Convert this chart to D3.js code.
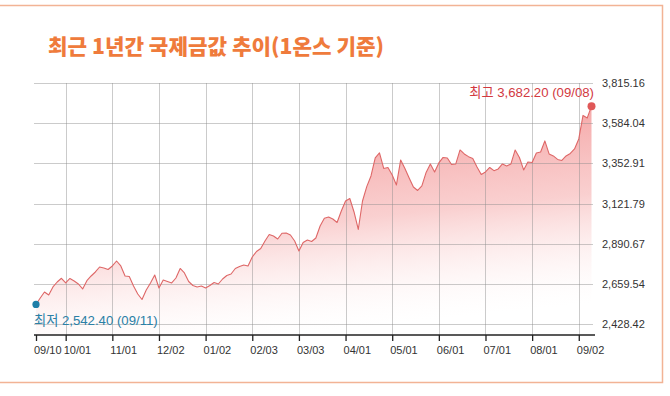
<!DOCTYPE html>
<html><head><meta charset="utf-8">
<script src="https://cdn.jsdelivr.net/npm/d3@7"></script>
<style>html,body{margin:0;padding:0;background:#fff;} svg{display:block}</style>
</head><body><svg id="c" width="670" height="396"></svg>
<script>
const titleText = "최근 1년간 국제금값 추이(1온스 기준)";
const prices = [
2542.4,2579.6,2614.1,2596.9,2642.9,2671.6,2692.9,2665.9,2691.7,2677.4,
2660.1,2631.4,2679.1,2706.1,2729.1,2757.8,2752.1,2743.5,2763.6,2792.3,
2763.6,2706.1,2703.2,2648.6,2602.6,2571.0,2625.6,2665.9,2711.8,2637.1,
2683.1,2674.5,2665.9,2694.6,2749.2,2723.3,2674.5,2651.5,2642.9,2648.6,
2637.1,2651.5,2668.7,2660.1,2688.8,2709.0,2717.6,2749.2,2760.7,2769.3,
2763.6,2815.3,2846.9,2864.2,2907.3,2944.7,2936.0,2918.8,2951.6,2953.3,
2941.8,2907.3,2849.8,2898.7,2913.0,2904.4,2924.5,2993.5,3038.4,3045.3,
3033.8,3013.6,3079.8,3137.2,3151.6,3074.0,2973.4,3137.2,3219.5,3281.0,
3384.5,3413.2,3324.1,3329.8,3286.7,3229.2,3373.0,3324.1,3269.5,3217.7,
3197.6,3223.5,3301.1,3350.0,3304.0,3355.7,3387.3,3384.0,3347.1,3350.0,
3430.4,3407.5,3391.9,3381.6,3332.7,3289.6,3304.0,3329.8,3311.4,3321.2,
3350.0,3338.5,3350.0,3430.4,3387.3,3315.5,3361.5,3358.0,3413.2,3418.9,
3482.2,3407.5,3396.0,3375.8,3370.1,3396.0,3410.3,3436.2,3493.7,3628.8,
3614.4,3682.2];
const tickIndex = [0,7,18,29,40,51,62,73,84,95,106,117,128];
const tickLabels = ["09/10","10/01","11/01","12/02","01/02","02/03","03/03","04/01","05/01","06/01","07/01","08/01","09/02"];
const yTicks = [2428.42,2659.54,2890.67,3121.79,3352.91,3584.04,3815.16];
const lowLabel = "최저 2,542.40 (09/11)";
const highLabel = "최고 3,682.20 (09/08)";

const svg = d3.select("#c");
const W = 670, H = 396;
const plotL = 34, plotR = 593, axisY = 335;
const x = d3.scaleLinear().domain([0, prices.length - 1]).range([36, 591.5]);
const y = d3.scaleLinear().domain([yTicks[0], yTicks[yTicks.length-1]]).range([324.3, 83]);
const base = y.invert(axisY);

// frame
svg.append("path").attr("d", `M0,5.5 H662.5 V382.5 H0`).attr("fill","none")
  .attr("stroke","#f2b395").attr("stroke-width",1.5);

// title
svg.append("text").attr("x",48).attr("y",54).text(titleText)
  .attr("font-family","'Noto Sans CJK KR', sans-serif").attr("font-weight",900)
  .attr("font-size",21).attr("fill","#ef7b3c")
  .attr("textLength",336).attr("lengthAdjust","spacingAndGlyphs");

// gradient
const defs = svg.append("defs");
const gr = defs.append("linearGradient").attr("id","fillg")
  .attr("x1",0.2).attr("y1",0).attr("x2",0.45).attr("y2",1);
gr.append("stop").attr("offset",0).attr("stop-color","#f07d7d").attr("stop-opacity",0.85);
gr.append("stop").attr("offset",0.55).attr("stop-color","#f5a9a9").attr("stop-opacity",0.55);
gr.append("stop").attr("offset",1).attr("stop-color","#ffffff").attr("stop-opacity",0.1);

const area = d3.area().x((d,i)=>x(i)).y0(y(base)).y1(d=>y(d));
svg.append("path").datum(prices).attr("d",area).attr("fill","url(#fillg)");

// grid
const grid = svg.append("g").attr("stroke","rgba(140,140,140,0.45)").attr("stroke-width",1);
grid.selectAll("line.h").data(yTicks).join("line").attr("class","h")
  .attr("x1",plotL).attr("x2",plotR).attr("y1",d=>Math.round(y(d))+0.5).attr("y2",d=>Math.round(y(d))+0.5);
grid.selectAll("line.v").data(tickIndex.slice(1)).join("line").attr("class","v")
  .attr("x1",d=>Math.round(x(d))+0.5).attr("x2",d=>Math.round(x(d))+0.5)
  .attr("y1",y(yTicks[yTicks.length-1])).attr("y2",axisY);

// line
const line = d3.line().x((d,i)=>x(i)).y(d=>y(d));
svg.append("path").datum(prices).attr("d",line).attr("fill","none")
  .attr("stroke","#de6767").attr("stroke-width",1.1).attr("stroke-linejoin","round");

// x axis
const xAxis = d3.axisBottom(x).tickValues(tickIndex).tickFormat((d,i)=>tickLabels[i])
  .tickSizeInner(6).tickSizeOuter(0);
const gx = svg.append("g").attr("transform",`translate(0,${axisY})`).call(xAxis);
gx.select(".domain").remove();
gx.selectAll(".tick line").attr("stroke","#222").attr("stroke-width",1.3);
gx.selectAll(".tick text").attr("font-family","'Liberation Sans', Arial, sans-serif")
  .attr("font-size",11).attr("fill","#333").attr("text-anchor","start").attr("x",-2.5).attr("y",11);
svg.append("line").attr("x1",plotL).attr("x2",595).attr("y1",axisY).attr("y2",axisY)
  .attr("stroke","#222").attr("stroke-width",1.5);

// y axis labels
const yAxis = d3.axisRight(y).tickValues(yTicks).tickFormat(d3.format(",.2f")).tickSize(0).tickPadding(0);
const gy = svg.append("g").attr("transform","translate(602,0)").call(yAxis);
gy.select(".domain").remove();
gy.selectAll(".tick text").attr("font-family","'Liberation Sans', Arial, sans-serif")
  .attr("font-size",11).attr("fill","#333");

// extremes
const iMin = d3.minIndex(prices), iMax = d3.maxIndex(prices);
svg.append("circle").attr("cx",x(iMin)).attr("cy",y(prices[iMin])).attr("r",3.6).attr("fill","#1f7fa8");
svg.append("circle").attr("cx",x(iMax)).attr("cy",y(prices[iMax])).attr("r",4).attr("fill","#e05858");
svg.append("text").attr("x",34).attr("y",325).text(lowLabel)
  .attr("font-family","'Liberation Sans', 'Noto Sans CJK KR', sans-serif").attr("font-size",13.2)
  .attr("fill","#2b80a6");
svg.append("text").attr("x",594).attr("y",97).attr("text-anchor","end").text(highLabel)
  .attr("font-family","'Liberation Sans', 'Noto Sans CJK KR', sans-serif").attr("font-size",13.2)
  .attr("fill","#d2393f");
</script></body></html>
